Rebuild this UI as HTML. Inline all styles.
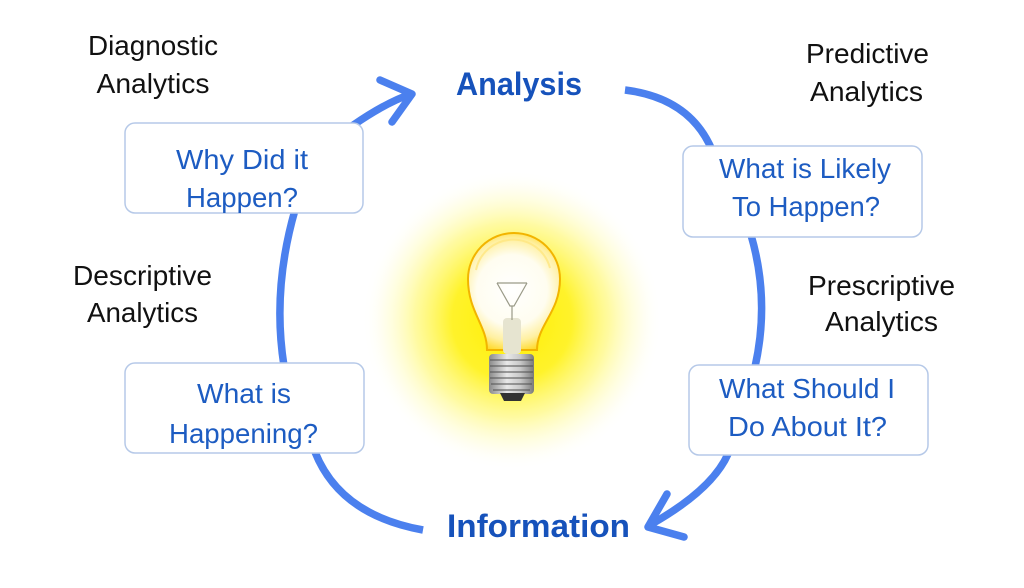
<!DOCTYPE html>
<html><head><meta charset="utf-8"><style>
html,body{margin:0;padding:0;background:#fff;}
svg{display:block;}
</style></head><body>
<svg width="1024" height="588" viewBox="0 0 1024 588" xmlns="http://www.w3.org/2000/svg">
<defs>
<radialGradient id="glow" cx="512" cy="320" r="150" gradientUnits="userSpaceOnUse">
<stop offset="0" stop-color="#ffee00" stop-opacity="1"/>
<stop offset="0.4" stop-color="#fff220" stop-opacity="0.95"/>
<stop offset="0.65" stop-color="#fff870" stop-opacity="0.65"/>
<stop offset="0.85" stop-color="#fffcbc" stop-opacity="0.3"/>
<stop offset="1" stop-color="#ffffff" stop-opacity="0"/>
</radialGradient>
<radialGradient id="bulbg" cx="512" cy="290" r="64" gradientUnits="userSpaceOnUse">
<stop offset="0" stop-color="#ffffff"/>
<stop offset="0.55" stop-color="#fffdf0"/>
<stop offset="0.8" stop-color="#fff0a0"/>
<stop offset="1" stop-color="#ffd820"/>
</radialGradient>
<linearGradient id="base" x1="0" y1="0" x2="1" y2="0">
<stop offset="0" stop-color="#8a8a8a"/>
<stop offset="0.4" stop-color="#e8e8e8"/>
<stop offset="0.7" stop-color="#c8c8c8"/>
<stop offset="1" stop-color="#7a7a7a"/>
</linearGradient>
</defs>
<rect width="1024" height="588" fill="#fff"/>
<circle cx="512" cy="320" r="152" fill="url(#glow)"/>

<!-- bulb -->
<path d="M487 350 C487 325 468 312 468 279 A46 46 0 0 1 560 279 C560 312 537 325 537 350 Z" fill="url(#bulbg)" stroke="#f2b400" stroke-width="2"/>
<path d="M476 270 A38 38 0 0 1 550 268" fill="none" stroke="#ffe680" stroke-width="2" opacity="0.8"/>
<rect x="503" y="318" width="18" height="36" rx="4" fill="#e6e4d0"/>
<path d="M497 283 L510 306 L514 306 L527 283 M497 283 L527 283 M512 306 L512 320" fill="none" stroke="#9a9a88" stroke-width="1.2"/>
<rect x="489" y="354" width="45" height="40" rx="4" fill="url(#base)"/>
<g stroke="#555" stroke-width="1.5" opacity="0.7">
<line x1="490" y1="360" x2="533" y2="360"/>
<line x1="490" y1="366" x2="533" y2="366"/>
<line x1="490" y1="372" x2="533" y2="372"/>
<line x1="490" y1="378" x2="533" y2="378"/>
<line x1="491" y1="384" x2="532" y2="384"/>
<line x1="493" y1="390" x2="530" y2="390"/>
</g>
<path d="M500 393 L525 393 L521 401 L504 401 Z" fill="#333"/>

<!-- arcs -->
<g fill="none" stroke="#4b80ee" stroke-width="7.5" stroke-linecap="round" stroke-linejoin="round">
<path d="M352 126 Q385 103 411 94"/>
<polyline points="380,80 412,94 392,122"/>
<path d="M295 210 Q272 290 284 366" stroke-linecap="butt"/>
<path d="M315 452 Q340 515 423 530" stroke-linecap="butt"/>
<path d="M625 90 Q690 98 712 150" stroke-linecap="butt"/>
<path d="M751 235 Q770 300 755 367" stroke-linecap="butt"/>
<path d="M728 454 Q712 490 650 525"/>
<polyline points="667,494 648,527 684,537"/>
</g>

<!-- boxes -->
<g fill="#fff" stroke="#b6c9e8" stroke-width="1.5">
<rect x="125" y="123" width="238" height="90" rx="10"/>
<rect x="125" y="363" width="239" height="90" rx="10"/>
<rect x="683" y="146" width="239" height="91" rx="10"/>
<rect x="689" y="365" width="239" height="90" rx="10"/>
</g>

<!-- black labels -->
<g font-family="'Liberation Sans', sans-serif" font-size="28" fill="#111" text-anchor="middle">
<text x="153" y="55" textLength="130" lengthAdjust="spacingAndGlyphs">Diagnostic</text>
<text x="153" y="93" textLength="113" lengthAdjust="spacingAndGlyphs">Analytics</text>
<text x="142.5" y="285" textLength="139" lengthAdjust="spacingAndGlyphs">Descriptive</text>
<text x="142.5" y="322" textLength="111" lengthAdjust="spacingAndGlyphs">Analytics</text>
<text x="867.5" y="63" textLength="123" lengthAdjust="spacingAndGlyphs">Predictive</text>
<text x="866.5" y="101" textLength="113" lengthAdjust="spacingAndGlyphs">Analytics</text>
<text x="881.5" y="295" textLength="147" lengthAdjust="spacingAndGlyphs">Prescriptive</text>
<text x="881.5" y="331" textLength="113" lengthAdjust="spacingAndGlyphs">Analytics</text>
</g>

<!-- blue box texts -->
<g font-family="'Liberation Sans', sans-serif" font-size="28" fill="#1d5cc2" text-anchor="middle">
<text x="242" y="169" textLength="132" lengthAdjust="spacingAndGlyphs">Why Did it</text>
<text x="242" y="207" textLength="112" lengthAdjust="spacingAndGlyphs">Happen?</text>
<text x="244" y="403" textLength="94" lengthAdjust="spacingAndGlyphs">What is</text>
<text x="243.5" y="443" textLength="149" lengthAdjust="spacingAndGlyphs">Happening?</text>
<text x="805" y="178" textLength="172" lengthAdjust="spacingAndGlyphs">What is Likely</text>
<text x="806" y="216" textLength="148" lengthAdjust="spacingAndGlyphs">To Happen?</text>
<text x="807" y="398" textLength="176" lengthAdjust="spacingAndGlyphs">What Should I</text>
<text x="807.5" y="436" textLength="159" lengthAdjust="spacingAndGlyphs">Do About It?</text>
</g>

<!-- bold labels -->
<g font-family="'Liberation Sans', sans-serif" font-size="32" font-weight="bold" fill="#1652bb" text-anchor="middle">
<text x="519" y="95" textLength="126" lengthAdjust="spacingAndGlyphs">Analysis</text>
<text x="538.5" y="537" textLength="183" lengthAdjust="spacingAndGlyphs">Information</text>
</g>
</svg>
</body></html>
